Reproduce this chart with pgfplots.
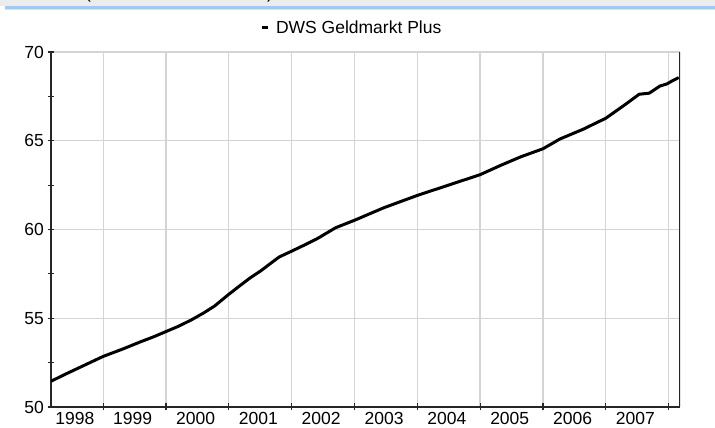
\documentclass[border=0pt]{standalone}
\usepackage{fontspec}
\setmainfont{Liberation Sans}
\usepackage{pgfplots}
\pgfplotsset{compat=1.18}
\definecolor{gridc}{HTML}{D4D4D4}
\definecolor{axc}{HTML}{262626}
\definecolor{bannerg}{HTML}{ECECEC}
\definecolor{bannerb}{HTML}{99CCFF}
\pgfplotstableread{
year value
1998.17 51.45
1998.40 51.85
1998.70 52.35
1999.00 52.85
1999.30 53.25
1999.60 53.68
1999.80 53.95
2000.00 54.25
2000.20 54.55
2000.40 54.90
2000.60 55.30
2000.77 55.68
2001.00 56.35
2001.20 56.90
2001.35 57.30
2001.50 57.65
2001.65 58.05
2001.80 58.45
2002.00 58.78
2002.20 59.12
2002.40 59.47
2002.70 60.10
2003.00 60.52
2003.47 61.23
2004.00 61.92
2004.53 62.54
2005.00 63.09
2005.33 63.62
2005.65 64.10
2006.00 64.55
2006.27 65.10
2006.64 65.65
2007.00 66.27
2007.32 67.07
2007.53 67.62
2007.69 67.68
2007.86 68.08
2007.97 68.20
2008.06 68.38
2008.16 68.56
}\dws
\begin{document}
\begin{tikzpicture}
\path[use as bounding box] (0pt,0pt) rectangle (715pt,428pt);
\fill[bannerg] (0pt,421.5pt) rectangle (715pt,428pt);
\fill[bannerb] (5pt,419pt) rectangle (715pt,421.5pt);
\fill[black!12] (5pt,418pt) rectangle (715pt,419pt);
\begin{scope}
\clip (0pt,0pt) rectangle (715pt,428pt);
\node[anchor=base, inner sep=0pt, font=\fontsize{17.5}{20}\selectfont] at (88pt,429.8pt) {(};
\node[anchor=base, inner sep=0pt, font=\fontsize{17.5}{20}\selectfont] at (270pt,429.8pt) {)};
\end{scope}
\begin{axis}[
  at={(51pt,21pt)}, anchor=south west,
  scale only axis, width=629pt, height=355pt,
  xmin=1998.17, xmax=2008.18, ymin=50, ymax=70,
  axis x line*=bottom, axis y line*=left,
  xtick pos=lower, ytick pos=left,
  axis line style={axc, line width=1.6pt},
  tick align=center,
  major tick length=7pt, minor tick length=7pt,
  tick style={axc, line width=1.2pt},
  xtick={1999,...,2008}, xticklabels={},
  extra x ticks={1998.55,1999.47,2000.47,2001.47,2002.47,2003.47,2004.47,2005.47,2006.47,2007.47},
  extra x tick labels={1998,1999,2000,2001,2002,2003,2004,2005,2006,2007},
  extra x tick style={major tick length=0pt, grid=none},
  ytick={50,55,60,65,70},
  minor ytick={52.5,57.5,62.5,67.5},
  xmajorgrids, ymajorgrids,
  major grid style={gridc, line width=1.3pt},
  tick label style={font=\fontsize{17.5}{20}\selectfont, text=black},
  /pgf/number format/assume math mode=true,
  yticklabel style={anchor=east, inner sep=0pt, xshift=-3.5pt},
  xticklabel style={anchor=north, inner sep=0pt, yshift=-5.5pt},
  legend style={at={(axis description cs:0.332,1.0676)}, anchor=west,
    draw=none, fill=none, inner sep=0pt, font=\fontsize{17.5}{20}\selectfont},
  legend image code/.code={\draw[line width=3pt, black] (0pt,0pt) -- (6pt,0pt); \path (11pt,0pt);},
]
\addplot[black, line width=3pt, line join=round] table[x=year, y=value] {\dws};
\addlegendentry{DWS Geldmarkt Plus}
\draw[axc, line width=1.6pt] (rel axis cs:1,0) -- (rel axis cs:1,1);
\end{axis}
\end{tikzpicture}
\end{document}
